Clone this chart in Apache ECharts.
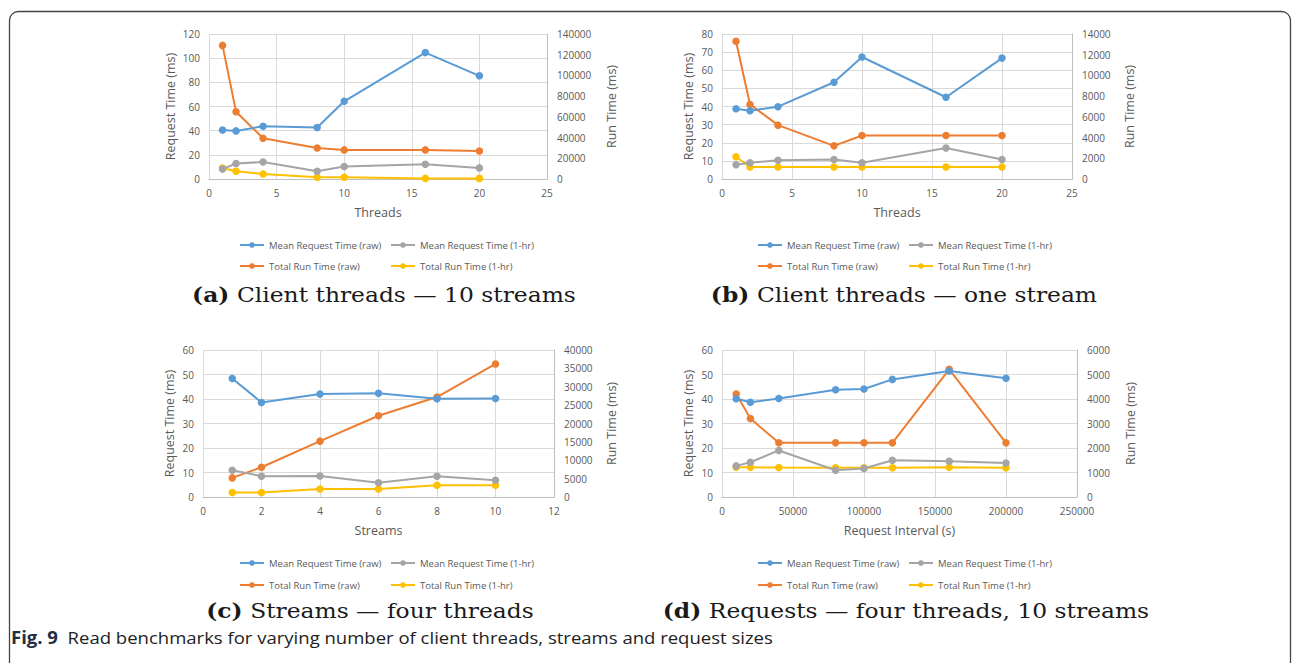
<!DOCTYPE html>
<html>
<head>
<meta charset="utf-8">
<script src="https://cdn.jsdelivr.net/npm/echarts@6/dist/echarts.min.js"></script>
<style>
html,body{margin:0;padding:0;background:#fff;}
#chart{width:1292px;height:663px;}
</style>
</head>
<body>
<div id="chart"></div>
<script>
// ---- series names ----
const seriesNames = ['Mean Request Time (raw)', 'Mean Request Time (1-hr)', 'Total Run Time (raw)', 'Total Run Time (1-hr)'];

// ---- panel (a): client threads, 10 streams ----
const xA = [1, 2, 4, 8, 10, 16, 20];
const aMeanRaw = [40.5, 39.8, 43.6, 42.6, 64.3, 104.6, 85.4];
const aMean1hr = [8.2, 12.8, 14.1, 6.4, 10.3, 12.2, 9.2];
const aRunRaw = [129000, 65000, 39300, 30000, 28100, 28100, 27000];
const aRun1hr = [10600, 7400, 4800, 1700, 1700, 600, 600];

// ---- panel (b): client threads, one stream ----
const xB = [1, 2, 4, 8, 10, 16, 20];
const bMeanRaw = [38.8, 37.7, 39.9, 53.4, 67.3, 45.1, 66.7];
const bMean1hr = [7.9, 9.0, 10.3, 10.7, 9.0, 17.1, 10.8];
const bRunRaw = [13300, 7200, 5200, 3200, 4200, 4200, 4200];
const bRun1hr = [2150, 1160, 1160, 1160, 1160, 1160, 1160];

// ---- panel (c): streams, four threads ----
const xC = [1, 2, 4, 6, 8, 10];
const cMeanRaw = [48.4, 38.6, 42.0, 42.3, 40.1, 40.2];
const cMean1hr = [10.9, 8.5, 8.6, 5.8, 8.5, 6.8];
const cRunRaw = [5200, 8100, 15200, 22100, 27200, 36200];
const cRun1hr = [1200, 1200, 2200, 2200, 3200, 3200];

// ---- panel (d): requests, four threads, 10 streams ----
const xD = [10000, 20000, 40000, 80000, 100000, 120000, 160000, 200000];
const dMeanRaw = [40.1, 38.7, 40.2, 43.8, 44.1, 48.0, 51.4, 48.5];
const dMean1hr = [12.7, 14.2, 19.0, 10.9, 11.6, 15.0, 14.6, 13.9];
const dRunRaw = [4200, 3200, 2210, 2210, 2210, 2210, 5210, 2210];
const dRun1hr = [1210, 1210, 1200, 1190, 1190, 1190, 1210, 1190];

// ---- axis ranges [max, interval] ----
const xAxisRanges = [[25, 5], [25, 5], [12, 2], [250000, 50000]];
const leftAxisRanges = [[120, 20], [80, 10], [60, 10], [60, 10]];
const rightAxisRanges = [[140000, 20000], [14000, 2000], [40000, 5000], [6000, 1000]];
const xAxisNames = ['Threads', 'Threads', 'Streams', 'Request Interval (s)'];
const leftAxisName = 'Request Time (ms)';
const rightAxisName = 'Run Time (ms)';

// ---- captions ----
const captionTags = ['(a)', '(b)', '(c)', '(d)'];
const captionTexts = ['Client threads \u2014 10 streams', 'Client threads \u2014 one stream', 'Streams \u2014 four threads', 'Requests \u2014 four threads, 10 streams'];
const figTag = 'Fig. 9';
const figText = 'Read benchmarks for varying number of client threads, streams and request sizes';

const panels = [
  { x: xA, s: [aMeanRaw, aMean1hr, aRunRaw, aRun1hr] },
  { x: xB, s: [bMeanRaw, bMean1hr, bRunRaw, bRun1hr] },
  { x: xC, s: [cMeanRaw, cMean1hr, cRunRaw, cRun1hr] },
  { x: xD, s: [dMeanRaw, dMean1hr, dRunRaw, dRun1hr] }
];

// layout
const grids = [
  { left: 209, top: 34, width: 338, height: 145 },
  { left: 722, top: 34, width: 350, height: 145 },
  { left: 203, top: 350, width: 351, height: 147 },
  { left: 722, top: 350, width: 355, height: 147 }
];
const leftNameGaps = [32, 27, 27, 27];
const rightNameGaps = [58, 51, 51, 47];
const legendPos = [
  { x1: 239, x2: 390, y1: 246, y2: 267 },
  { x1: 757, x2: 908, y1: 246, y2: 267 },
  { x1: 239, x2: 390, y1: 564, y2: 586 },
  { x1: 757, x2: 908, y1: 564, y2: 586 }
];
const captionPos = [
  { cx: 384, cy: 295 }, { cx: 904, cy: 295 },
  { cx: 370, cy: 611 }, { cx: 906, cy: 611 }
];
const colors = ['#5B9BD5', '#A5A5A5', '#ED7D31', '#FFC000'];
const labelColor = '#595959';
const sansFont = 'Open Sans';
const plainNum = v => String(v);

const option = {
  animation: false,
  color: colors,
  grid: grids.map(g => Object.assign({ containLabel: false }, g)),
  xAxis: [],
  yAxis: [],
  series: [],
  legend: [],
  graphic: []
};

panels.forEach((p, i) => {
  option.xAxis.push({
    gridIndex: i, type: 'value', min: 0, max: xAxisRanges[i][0], interval: xAxisRanges[i][1],
    name: xAxisNames[i], nameLocation: 'middle', nameGap: 27,
    nameTextStyle: { color: labelColor, fontSize: 12.5, fontFamily: sansFont },
    axisLine: { show: true, lineStyle: { color: '#bfbfbf', width: 1 } },
    axisTick: { show: false },
    axisLabel: { color: labelColor, fontSize: 10, fontFamily: sansFont, margin: 9, formatter: plainNum },
    splitLine: { show: true, lineStyle: { color: '#d9d9d9', width: 1 } }
  });
  option.yAxis.push({
    gridIndex: i, type: 'value', position: 'left', min: 0, max: leftAxisRanges[i][0], interval: leftAxisRanges[i][1],
    name: leftAxisName, nameLocation: 'middle', nameGap: leftNameGaps[i], nameRotate: 90,
    nameTextStyle: { color: labelColor, fontSize: 12.5, fontFamily: sansFont },
    axisLine: { show: false }, axisTick: { show: false },
    axisLabel: { color: labelColor, fontSize: 10, fontFamily: sansFont, margin: 9, formatter: plainNum },
    splitLine: { show: true, lineStyle: { color: '#d9d9d9', width: 1 } }
  });
  option.yAxis.push({
    gridIndex: i, type: 'value', position: 'right', min: 0, max: rightAxisRanges[i][0], interval: rightAxisRanges[i][1],
    name: rightAxisName, nameLocation: 'middle', nameGap: rightNameGaps[i], nameRotate: 90,
    nameTextStyle: { color: labelColor, fontSize: 12.5, fontFamily: sansFont },
    axisLine: { show: true, lineStyle: { color: '#bfbfbf', width: 1 } }, axisTick: { show: false },
    axisLabel: { color: labelColor, fontSize: 10, fontFamily: sansFont, margin: 10, formatter: plainNum },
    splitLine: { show: false }
  });
  p.s.forEach((vals, k) => {
    option.series.push({
      type: 'line', name: seriesNames[k],
      xAxisIndex: i, yAxisIndex: i * 2 + (k >= 2 ? 1 : 0),
      data: vals.map((v, j) => [p.x[j], v]),
      symbol: 'circle', symbolSize: 7.5,
      lineStyle: { width: 2, color: colors[k] },
      itemStyle: { color: colors[k] },
      z: 10 - k
    });
  });
  const lp = legendPos[i];
  const spots = [[lp.x1, lp.y1], [lp.x2, lp.y1], [lp.x1, lp.y2], [lp.x2, lp.y2]];
  seriesNames.forEach((n, k) => {
    option.legend.push({
      data: [n], left: spots[k][0], top: spots[k][1] - 6, padding: 0,
      itemWidth: 24, itemHeight: 7, itemGap: 4,
      textStyle: { color: labelColor, fontSize: 9.5, fontFamily: sansFont },
      selectedMode: false
    });
  });
});

captionPos.forEach((c, i) => {
  option.graphic.push({
    type: 'text',
    x: c.cx, y: c.cy, scaleX: 1.17,
    style: {
      text: '{b|' + captionTags[i] + '} ' + captionTexts[i],
      align: 'center', verticalAlign: 'middle',
      font: '20px "DejaVu Serif"', fill: '#1a1a1a',
      rich: { b: { font: 'bold 20px "DejaVu Serif"', fill: '#1a1a1a' } }
    }
  });
});
option.graphic.push({
  type: 'text', x: 11, y: 637, scaleX: 1.09,
  style: {
    text: '{b|' + figTag + '}  ' + figText,
    verticalAlign: 'middle',
    font: '17px "Open Sans"', fill: '#222',
    rich: { b: { font: 'bold 17px "Open Sans"', fill: '#1f2f45' } }
  }
});
option.graphic.push({
  type: 'rect',
  shape: { x: 9.5, y: 11.5, width: 1281, height: 700, r: [9, 9, 0, 0] },
  style: { fill: 'none', stroke: '#444', lineWidth: 1.3 },
  silent: true
});

const chart = echarts.init(document.getElementById('chart'), null, { renderer: 'svg' });
chart.setOption(option);
</script>
</body>
</html>
